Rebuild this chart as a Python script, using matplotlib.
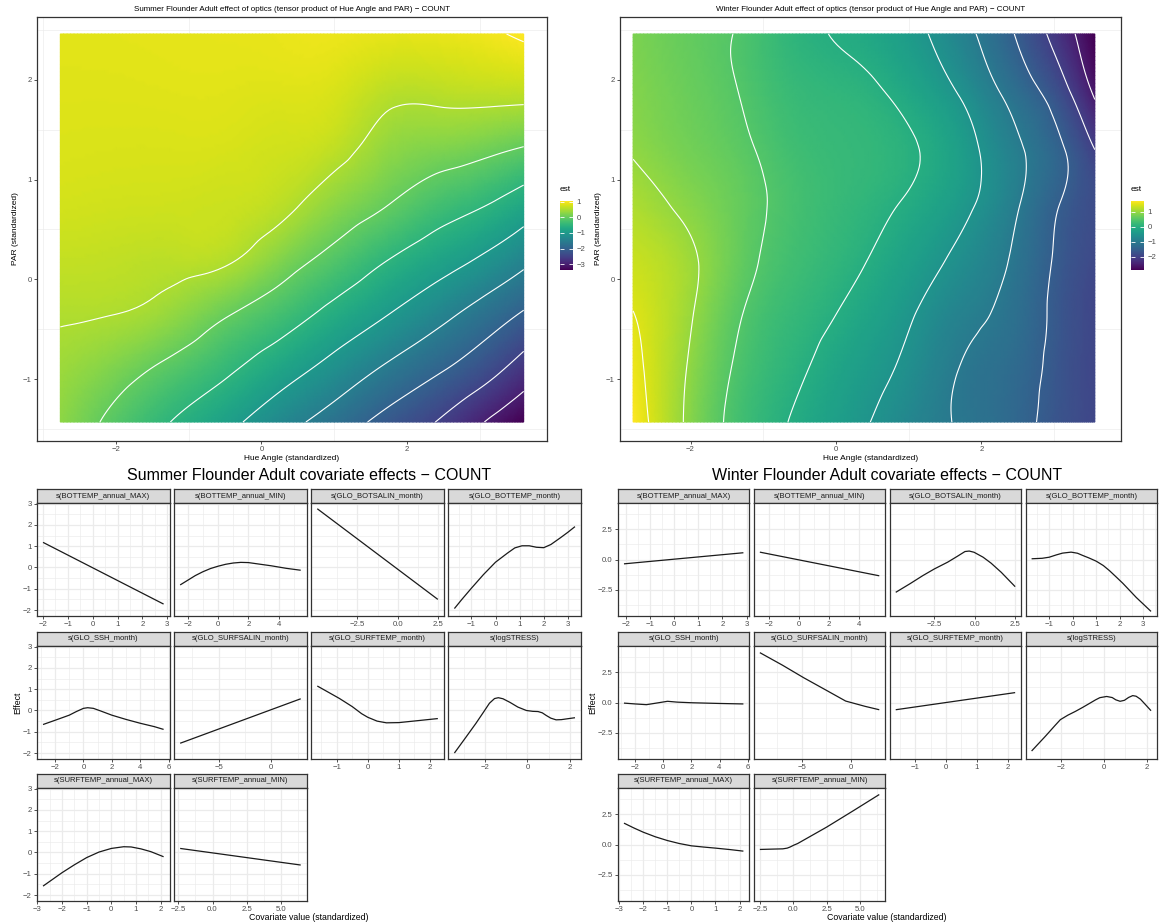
import numpy as np
import matplotlib
matplotlib.use("Agg")
import matplotlib.pyplot as plt
import matplotlib.tri as mtri

# ======================= DATA =======================
# --- heat maps (estimated field values on a coarse grid) ---
sf_hue = [-2.76, -2.0, -1.25, -0.5, 0.25, 1.0, 1.75, 2.5, 3.25, 3.6]
sf_par = [-1.43, -0.9, -0.35, 0.2, 0.75, 1.3, 1.85, 2.46]
sf_est = [
    [0.30, -0.12, -0.50, -0.86, -1.30, -1.72, -2.17, -2.57, -3.15, -3.38],
    [0.40, 0.18, -0.11, -0.42, -0.78, -1.17, -1.59, -1.98, -2.44, -2.72],
    [0.53, 0.50, 0.35, 0.04, -0.27, -0.64, -1.00, -1.39, -1.83, -2.05],
    [0.65, 0.63, 0.60, 0.55, 0.23, -0.14, -0.50, -0.82, -1.17, -1.38],
    [0.75, 0.73, 0.72, 0.70, 0.60, 0.29, 0.00, -0.30, -0.56, -0.74],
    [0.80, 0.79, 0.79, 0.78, 0.73, 0.62, 0.32, 0.19, 0.05, -0.04],
    [0.83, 0.83, 0.84, 0.84, 0.82, 0.78, 0.58, 0.58, 0.60, 0.60],
    [0.85, 0.86, 0.87, 0.88, 0.90, 0.92, 0.88, 0.90, 0.98, 1.05],
]
wf_hue = [-2.79, -2.0, -1.25, -0.5, 0.25, 1.0, 1.75, 2.5, 3.1, 3.56]
wf_par = [-1.43, -0.9, -0.35, 0.2, 0.75, 1.3, 1.85, 2.46]
wf_est = [
    [1.73, 0.90, 0.30, -0.07, -0.40, -0.75, -1.05, -1.35, -1.70, -1.90],
    [1.62, 0.95, 0.38, 0.05, -0.28, -0.60, -1.03, -1.30, -1.68, -1.90],
    [1.51, 1.03, 0.48, 0.18, -0.10, -0.45, -0.85, -1.20, -1.65, -1.90],
    [1.35, 1.06, 0.60, 0.30, 0.07, -0.25, -0.62, -1.10, -1.60, -1.85],
    [1.17, 0.90, 0.62, 0.35, 0.17, -0.05, -0.40, -0.97, -1.52, -1.80],
    [0.97, 0.75, 0.55, 0.30, 0.20, 0.05, -0.33, -0.93, -1.45, -2.00],
    [0.88, 0.68, 0.47, 0.22, 0.12, -0.12, -0.55, -1.20, -1.80, -2.55],
    [0.82, 0.63, 0.44, 0.10, -0.07, -0.35, -0.85, -1.55, -2.25, -2.87],
]
sf_levels = [-3.0, -2.5, -2.0, -1.5, -1.0, -0.5, 0.0, 0.5, 1.0]
wf_levels = [-2.5, -2.0, -1.5, -1.0, -0.5, 0.0, 0.5, 1.0, 1.5]
heat_xticks = [-2, 0, 2]
heat_xticklabels = ["\u22122", "0", "2"]
heat_yticks = [-1, 0, 1, 2]
heat_yticklabels = ["\u22121", "0", "1", "2"]
sf_cbar_ticks = [-3, -2, -1, 0, 1]
sf_cbar_labels = ["\u22123", "\u22122", "\u22121", "0", "1"]
wf_cbar_ticks = [-2, -1, 0, 1]
wf_cbar_labels = ["\u22122", "\u22121", "0", "1"]

sf_heat_title = "Summer Flounder Adult effect of optics (tensor product of Hue Angle and PAR) \u2212 COUNT"
wf_heat_title = "Winter Flounder Adult effect of optics (tensor product of Hue Angle and PAR) \u2212 COUNT"
sf_cov_title = "Summer Flounder Adult covariate effects \u2212 COUNT"
wf_cov_title = "Winter Flounder Adult covariate effects \u2212 COUNT"

covariate_names = ["s(BOTTEMP_annual_MAX)", "s(BOTTEMP_annual_MIN)", "s(GLO_BOTSALIN_month)",
                   "s(GLO_BOTTEMP_month)", "s(GLO_SSH_month)", "s(GLO_SURFSALIN_month)",
                   "s(GLO_SURFTEMP_month)", "s(logSTRESS)", "s(SURFTEMP_annual_MAX)",
                   "s(SURFTEMP_annual_MIN)"]

# --- Summer flounder smooth effects ---
sf_bottemp_max_x = [-2.0, 2.85]
sf_bottemp_max_y = [1.18, -1.72]
sf_bottemp_min_x = [-2.5, -2.0, -1.5, -1.0, -0.5, 0.0, 0.5, 1.0, 1.5, 2.0, 2.5, 3.5, 4.5, 5.45]
sf_bottemp_min_y = [-0.82, -0.6, -0.38, -0.2, -0.05, 0.06, 0.15, 0.21, 0.24, 0.23, 0.18, 0.08, -0.04, -0.13]
sf_botsalin_x = [-5.0, 2.5]
sf_botsalin_y = [2.76, -1.5]
sf_glo_bottemp_x = [-1.71, -1.4, -1.0, -0.5, 0.0, 0.5, 0.8, 1.1, 1.4, 1.7, 2.0, 2.3, 2.7, 3.0, 3.3]
sf_glo_bottemp_y = [-1.93, -1.5, -0.97, -0.33, 0.25, 0.68, 0.92, 1.02, 1.02, 0.95, 0.93, 1.08, 1.4, 1.65, 1.92]
sf_ssh_x = [-2.85, -2.0, -1.0, -0.5, 0.0, 0.3, 0.7, 1.2, 2.0, 3.0, 4.0, 5.0, 5.65]
sf_ssh_y = [-0.66, -0.46, -0.22, -0.05, 0.1, 0.13, 0.1, -0.02, -0.22, -0.42, -0.6, -0.76, -0.89]
sf_surfsalin_x = [-8.65, 2.8]
sf_surfsalin_y = [-1.54, 0.55]
sf_surftemp_x = [-1.63, -1.3, -0.91, -0.5, -0.2, 0.0, 0.3, 0.6, 1.0, 1.6, 2.26]
sf_surftemp_y = [1.15, 0.88, 0.56, 0.18, -0.15, -0.32, -0.5, -0.58, -0.57, -0.48, -0.38]
sf_logstress_x = [-3.44, -2.9, -2.43, -2.05, -1.79, -1.55, -1.37, -1.15, -0.82, -0.45, -0.05,
                  0.25, 0.5, 0.7, 0.88, 1.1, 1.35, 1.6, 1.81, 2.24]
sf_logstress_y = [-2.0, -1.26, -0.61, -0.05, 0.34, 0.56, 0.6, 0.55, 0.38, 0.16, 0.0,
                  -0.04, -0.05, -0.11, -0.23, -0.36, -0.44, -0.43, -0.4, -0.34]
sf_surftemp_max_x = [-2.77, -2.0, -1.5, -1.0, -0.5, 0.0, 0.5, 0.8, 1.2, 1.6, 2.12]
sf_surftemp_max_y = [-1.58, -0.95, -0.58, -0.24, 0.02, 0.19, 0.27, 0.26, 0.17, 0.04, -0.2]
sf_surftemp_min_x = [-2.37, 6.45]
sf_surftemp_min_y = [0.19, -0.59]
sf_xticks = [[-2, -1, 0, 1, 2, 3], [-2, 0, 2, 4], [-2.5, 0.0, 2.5], [-1, 0, 1, 2, 3],
             [-2, 0, 2, 4, 6], [-5, 0], [-1, 0, 1, 2], [-2, 0, 2],
             [-3, -2, -1, 0, 1, 2], [-2.5, 0.0, 2.5, 5.0]]
sf_xticklabels = [["\u22122", "\u22121", "0", "1", "2", "3"], ["\u22122", "0", "2", "4"],
                  ["\u22122.5", "0.0", "2.5"], ["\u22121", "0", "1", "2", "3"],
                  ["\u22122", "0", "2", "4", "6"], ["\u22125", "0"], ["\u22121", "0", "1", "2"],
                  ["\u22122", "0", "2"], ["\u22123", "\u22122", "\u22121", "0", "1", "2"],
                  ["\u22122.5", "0.0", "2.5", "5.0"]]
sf_yticks = [-2, -1, 0, 1, 2, 3]
sf_yticklabels = ["\u22122", "\u22121", "0", "1", "2", "3"]
sf_ylim = (-2.28, 3.03)

# --- Winter flounder smooth effects ---
wf_bottemp_max_x = [-2.07, 2.87]
wf_bottemp_max_y = [-0.36, 0.56]
wf_bottemp_min_x = [-2.58, 5.35]
wf_bottemp_min_y = [0.61, -1.35]
wf_botsalin_x = [-4.89, -4.0, -3.21, -2.5, -1.68, -1.1, -0.61, -0.35, -0.05, 0.51, 1.0, 1.63, 2.49]
wf_botsalin_y = [-2.72, -2.0, -1.33, -0.78, -0.22, 0.25, 0.66, 0.7, 0.6, 0.19, -0.3, -1.06, -2.25]
wf_glo_bottemp_x = [-1.75, -1.3, -1.0, -0.7, -0.43, -0.07, 0.2, 0.43, 0.7, 1.0, 1.3, 1.56, 1.85,
                    2.13, 2.7, 3.33]
wf_glo_bottemp_y = [0.06, 0.1, 0.19, 0.38, 0.53, 0.61, 0.52, 0.33, 0.12, -0.14, -0.5, -0.92, -1.45,
                    -1.97, -3.14, -4.3]
wf_ssh_x = [-2.8, -2.0, -1.2, -0.5, 0.3, 1.0, 2.0, 4.0, 5.7]
wf_ssh_y = [-0.05, -0.12, -0.18, -0.05, 0.1, 0.03, -0.02, -0.08, -0.12]
wf_surfsalin_x = [-9.3, -7.0, -4.8, -2.5, -0.5, 0.5, 1.5, 2.95]
wf_surfsalin_y = [4.13, 3.1, 2.05, 1.02, 0.12, -0.1, -0.32, -0.6]
wf_surftemp_x = [-1.63, 2.24]
wf_surftemp_y = [-0.6, 0.82]
wf_logstress_x = [-3.4, -2.75, -2.3, -2.05, -1.7, -1.35, -1.0, -0.66, -0.4, -0.2, 0.12, 0.38,
                  0.55, 0.75, 0.95, 1.15, 1.34, 1.5, 1.7, 1.9, 2.2]
wf_logstress_y = [-4.02, -2.79, -1.9, -1.42, -1.05, -0.74, -0.4, -0.05, 0.22, 0.4, 0.5, 0.41,
                  0.22, 0.1, 0.18, 0.42, 0.57, 0.52, 0.28, -0.1, -0.68]
wf_surftemp_max_x = [-2.8, -2.4, -2.0, -1.5, -1.0, -0.5, 0.0, 0.5, 1.0, 1.6, 2.16]
wf_surftemp_max_y = [1.77, 1.38, 1.02, 0.64, 0.33, 0.08, -0.11, -0.21, -0.3, -0.42, -0.55]
wf_surftemp_min_x = [-2.5, -1.5, -0.78, -0.45, -0.22, 0.05, 0.33, 1.0, 2.5, 4.5, 6.44]
wf_surftemp_min_y = [-0.41, -0.38, -0.36, -0.3, -0.2, -0.05, 0.08, 0.5, 1.44, 2.8, 4.14]
wf_xticks = [[-2, -1, 0, 1, 2, 3], [-2, 0, 2, 4], [-2.5, 0.0, 2.5], [-1, 0, 1, 2, 3],
             [-2, 0, 2, 4, 6], [-5, 0], [-1, 0, 1, 2], [-2, 0, 2],
             [-3, -2, -1, 0, 1, 2], [-2.5, 0.0, 2.5, 5.0]]
wf_xticklabels = sf_xticklabels
wf_yticks = [-2.5, 0.0, 2.5]
wf_yticklabels = ["\u22122.5", "0.0", "2.5"]
wf_ylim = (-4.68, 4.68)

# ======================= DRAWING =======================
W, H = 1165, 924
plt.rcParams['font.family'] = ['Liberation Sans', 'DejaVu Sans']
plt.rcParams['contour.negative_linestyle'] = 'solid'
fig = plt.figure(figsize=(W / 100, H / 100), dpi=100)
fig.patch.set_facecolor('white')

GRID = '#EBEBEB'
DARK = '#333333'
TICKC = '#4D4D4D'


def add_ax(x0, y0, x1, y1):
    return fig.add_axes([x0 / W, 1 - y1 / H, (x1 - x0) / W, (y1 - y0) / H])


def minors(major, lim):
    step = major[1] - major[0]
    cand = [major[0] - step / 2] + [m + step / 2 for m in major]
    return [c for c in cand if lim[0] <= c <= lim[1]]


def style_bw(ax, xt, xtl, yt, ytl, fs, show_y=True):
    ax.set_facecolor('white')
    for s in ax.spines.values():
        s.set_color(DARK)
        s.set_linewidth(0.9)
    ax.set_xticks(xt)
    ax.set_xticklabels(xtl)
    ax.set_yticks(yt)
    ax.set_yticklabels(ytl)
    ax.set_xticks(minors(xt, ax.get_xlim()), minor=True)
    ax.set_yticks(minors(yt, ax.get_ylim()), minor=True)
    ax.grid(True, which='major', color=GRID, lw=0.9)
    ax.grid(True, which='minor', color=GRID, lw=0.45)
    ax.set_axisbelow(True)
    ax.tick_params(which='major', length=2.5, width=0.6, color=DARK, labelsize=fs,
                   labelcolor=TICKC, pad=1.2)
    ax.tick_params(which='minor', length=0)
    if not show_y:
        ax.tick_params(axis='y', which='both', left=False, labelleft=False)


def heat_panel(frame, hue, par, est, levels, title, cbox, cticks, clabels, xlim, ylim):
    ax = add_ax(*frame)
    ax.set_xlim(xlim)
    ax.set_ylim(ylim)
    style_bw(ax, heat_xticks, heat_xticklabels, heat_yticks, heat_yticklabels, 5.6)
    Z = np.array(est)
    HX, PY = np.meshgrid(hue, par)
    tri = mtri.Triangulation(HX.ravel(), PY.ravel())
    interp = mtri.CubicTriInterpolator(tri, Z.ravel(), kind='min_E')
    refiner = mtri.UniformTriRefiner(tri)
    tri_r, z_r = refiner.refine_field(Z.ravel(), triinterpolator=interp, subdiv=4)
    m = ax.tripcolor(tri_r, z_r, shading='gouraud', cmap='viridis',
                     vmin=Z.min(), vmax=Z.max(), zorder=2)
    ax.tricontour(tri_r, z_r, levels=levels, colors='white', linewidths=0.8,
                  linestyles='solid', zorder=3)
    ax.set_xlim(xlim)
    ax.set_ylim(ylim)
    ax.set_xlabel("Hue Angle (standardized)", fontsize=6.0, color='black', labelpad=1.5)
    ax.set_ylabel("PAR (standardized)", fontsize=6.0, color='black', labelpad=3)
    ax.set_title(title, fontsize=5.8, color='black', pad=4)
    cax = add_ax(*cbox)
    cb = fig.colorbar(m, cax=cax)
    cb.outline.set_visible(False)
    cb.set_ticks(cticks)
    cb.set_ticklabels(clabels)
    cax.tick_params(axis='y', direction='in', length=2.6, width=0.6, color='white',
                    left=True, right=True, labelsize=5.6, labelcolor=TICKC, pad=2.5)
    fig.text(cbox[0] / W, 1 - (cbox[1] - 8) / H, "est", fontsize=6.0, ha='left', va='bottom')
    return ax


# top heat maps
heat_panel((37, 17, 547, 441), sf_hue, sf_par, sf_est, sf_levels, sf_heat_title,
           (560, 201, 573, 270), sf_cbar_ticks, sf_cbar_labels, (-3.08, 3.92), (-1.62, 2.63))
heat_panel((620, 17, 1121, 441), wf_hue, wf_par, wf_est, wf_levels, wf_heat_title,
           (1131, 201, 1144, 270), wf_cbar_ticks, wf_cbar_labels, (-2.97, 3.92), (-1.62, 2.63))


def facets(x_left, x_right, xs_list, ys_list, xt_list, xtl_list, ylim, yt, ytl, title, xlabel_x, ylabel_x):
    gap = 4.5
    pw = (x_right - x_left - 3 * gap) / 4
    strip_tops = [489, 632, 774]
    strip_h = 14
    panel_h = 113
    for i, name in enumerate(covariate_names):
        r, c = divmod(i, 4)
        x0 = x_left + c * (pw + gap)
        x1 = x0 + pw
        st = strip_tops[r]
        y0 = st + strip_h
        y1 = y0 + panel_h
        sax = add_ax(x0, st, x1, y0)
        sax.set_facecolor('#D9D9D9')
        sax.set_xticks([])
        sax.set_yticks([])
        for s in sax.spines.values():
            s.set_color(DARK)
            s.set_linewidth(0.9)
        sax.text(0.5, 0.5, name, ha='center', va='center', fontsize=5.5, color='#1A1A1A',
                 transform=sax.transAxes)
        ax = add_ax(x0, y0, x1, y1)
        xs = np.array(xs_list[i])
        ys = np.array(ys_list[i])
        rng = xs.max() - xs.min()
        ax.set_xlim(xs.min() - 0.05 * rng, xs.max() + 0.05 * rng)
        ax.set_ylim(ylim)
        style_bw(ax, xt_list[i], xtl_list[i], yt, ytl, 5.6, show_y=(c == 0))
        ax.plot(xs, ys, color='#1A1A1A', lw=0.9, solid_capstyle='butt', solid_joinstyle='round')
    fig.text(xlabel_x / W, 1 - 917 / H, "Covariate value (standardized)", fontsize=6.3,
             ha='center', va='center')
    fig.text(ylabel_x / W, 1 - 703 / H, "Effect", fontsize=6.3, rotation=90,
             ha='center', va='center')
    fig.text((x_left + x_right) / 2 / W, 1 - 476 / H, title, fontsize=11.5,
             ha='center', va='center')


facets(37, 581,
       [sf_bottemp_max_x, sf_bottemp_min_x, sf_botsalin_x, sf_glo_bottemp_x, sf_ssh_x,
        sf_surfsalin_x, sf_surftemp_x, sf_logstress_x, sf_surftemp_max_x, sf_surftemp_min_x],
       [sf_bottemp_max_y, sf_bottemp_min_y, sf_botsalin_y, sf_glo_bottemp_y, sf_ssh_y,
        sf_surfsalin_y, sf_surftemp_y, sf_logstress_y, sf_surftemp_max_y, sf_surftemp_min_y],
       sf_xticks, sf_xticklabels, sf_ylim, sf_yticks, sf_yticklabels, sf_cov_title, 309, 18)
facets(618, 1157,
       [wf_bottemp_max_x, wf_bottemp_min_x, wf_botsalin_x, wf_glo_bottemp_x, wf_ssh_x,
        wf_surfsalin_x, wf_surftemp_x, wf_logstress_x, wf_surftemp_max_x, wf_surftemp_min_x],
       [wf_bottemp_max_y, wf_bottemp_min_y, wf_botsalin_y, wf_glo_bottemp_y, wf_ssh_y,
        wf_surfsalin_y, wf_surftemp_y, wf_logstress_y, wf_surftemp_max_y, wf_surftemp_min_y],
       wf_xticks, wf_xticklabels, wf_ylim, wf_yticks, wf_yticklabels, wf_cov_title, 887, 593)

fig.savefig("out.png", dpi=100, facecolor='white')
